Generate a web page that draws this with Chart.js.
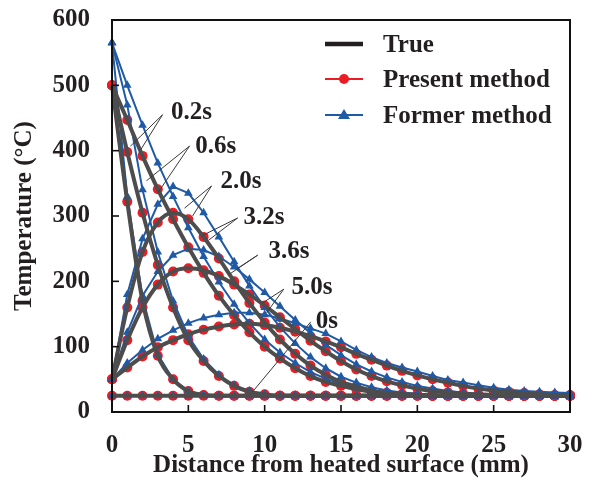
<!DOCTYPE html>
<html><head><meta charset="utf-8">
<script src="https://cdn.jsdelivr.net/npm/chart.js@4.4.1/dist/chart.umd.min.js"></script>
<style>html,body{margin:0;padding:0;background:#fff;}#wrap{width:593px;height:493px;}</style>
</head><body><div id="wrap"><canvas id="c" width="593" height="493"></canvas></div>
<script>
// ---- data (distance in mm, temperature in °C) ----
const distances = [0,1,2,3,4,5,6,7,8,9,10,11,12,13,14,15,16,17,18,19,20,21,22,23,24,25,26,27,28,29,30];
const timeLabels = ['0s','0.2s','0.6s','2.0s','3.2s','3.6s','5.0s'];

const true0s  = [25,25,25,25,25,25,25,25,25,25,25,25,25,25,25,25,25,25,25,25,25,25,25,25,25,25,25,25,25,25,25];
const true02s = [500,322,170,86,50,32,26,25,25,25,25,25,25,25,25,25,25,25,25,25,25,25,25,25,25,25,25,25,25,25,25];
const true06s = [500,398,305,225,160,110,78,55,40,31,27,25,25,25,25,25,25,25,25,25,25,25,25,25,25,25,25,25,25,25,25];
const true20s = [500,447,392,341,295,252,213,178,148,122,100,82,67,55,46,40,35,31,29,27,26,25,25,25,25,25,25,25,25,25,25];
const true32s = [50,160,245,290,305,295,268,235,200,167,137,111,89,71,57,46,39,33,29,27,26,25,25,25,25,25,25,25,25,25,25];
const true36s = [50,110,160,195,215,220,217,208,195,180,163,145,127,109,93,78,65,55,47,41,36,32,30,28,27,26,25,25,25,25,25];
const true50s = [50,68,85,99,110,119,126,131,134,135,133,129,123,116,108,99,89,80,71,63,56,50,45,40,36,33,31,29,27,26,26];

const present0s  = [25,25,25,25,25,25,25,25,25,25,25,25,25,25,25,25,25,25,25,25,25,25,25,25,25,25,25,25,25,25,25];
const present02s = [500,322,170,86,50,32,26,25,25,25,25,25,25,25,25,25,25,25,25,25,25,25,25,25,25,25,25,25,25,25,25];
const present06s = [500,398,305,225,160,110,78,55,40,31,27,25,25,25,25,25,25,25,25,25,25,25,25,25,25,25,25,25,25,25,25];
const present20s = [500,447,392,341,295,252,213,178,148,122,100,82,67,55,46,40,35,31,29,27,26,25,25,25,25,25,25,25,25,25,25];
const present32s = [50,160,245,290,305,295,268,235,200,167,137,111,89,71,57,46,39,33,29,27,26,25,25,25,25,25,25,25,25,25,25];
const present36s = [50,110,160,195,215,220,217,208,195,180,163,145,127,109,93,78,65,55,47,41,36,32,30,28,27,26,25,25,25,25,25];
const present50s = [50,68,85,99,110,119,126,131,134,135,133,129,123,116,108,99,89,80,71,63,56,50,45,40,36,33,31,29,27,26,26];

const former0s  = [25,25,25,25,25,25,25,25,25,25,25,25,25,25,25,25,25,25,25,25,25,25,25,25,25,25,25,25,25,25,25];
const former02s = [565,330,175,88,50,32,26,25,25,25,25,25,25,25,25,25,25,25,25,25,25,25,25,25,25,25,25,25,25,25,25];
const former06s = [565,470,340,245,170,116,81,57,41,32,27,25,25,25,25,25,25,25,25,25,25,25,25,25,25,25,25,25,25,25,25];
const former20s = [565,500,439,381,330,282,238,199,165,136,111,91,75,61,51,43,37,33,30,28,26,25,25,25,25,25,25,25,25,25,25];
const former32s = [50,180,265,318,345,335,305,268,230,193,160,130,105,84,67,54,45,38,33,30,28,26,25,25,25,25,25,25,25,25,25];
const former36s = [50,122,178,215,240,250,248,238,222,203,183,162,141,121,103,87,73,62,53,46,40,36,32,30,28,27,26,25,25,25,25];
const former50s = [50,75,95,112,125,136,144,149,152,152,149,143,136,128,120,108,95,84,75,68,62,55,49,45,41,37,34,32,31,30,29];

const xTicks = [0,5,10,15,20,25,30];
const yTicks = [0,100,200,300,400,500,600];

const trueSeries    = [true0s,true02s,true06s,true20s,true32s,true36s,true50s];
const presentSeries = [present0s,present02s,present06s,present20s,present32s,present36s,present50s];
const formerSeries  = [former0s,former02s,former06s,former20s,former32s,former36s,former50s];

// annotation layout (data units): label centre, arrow start, arrow end(s)
const noteLayout = [
  {t:'0.2s', x:5.21, y:459, from:[3.31,455], to:[[1.21,407],[1.87,401]]},
  {t:'0.6s', x:6.80, y:406, from:[5.08,407], to:[[2.26,354],[3.05,337]]},
  {t:'2.0s', x:8.45, y:352, from:[6.52,346], to:[[4.75,312],[5.28,300]]},
  {t:'3.2s', x:9.95, y:298, from:[8.23,297], to:[[6.00,271],[6.33,263]]},
  {t:'3.6s', x:11.59,y:245, from:[9.54,240], to:[[7.70,211],[8.23,220]]},
  {t:'5.0s', x:13.10,y:190, from:[11.25,188],to:[[9.87,167],[10.13,152]]},
  {t:'0s',   x:14.08,y:138, from:[13.02,138],to:[[9.21,31]]}
];

const FONT = '"Liberation Serif","Times New Roman",serif';
const TXT = '#231f20';
const GRAY = '#4d4d4d', RED = '#ec1c24', BLUE = '#1f5aa6';

const pts = arr => distances.map((x,i)=>({x:x, y:arr[i]}));
const datasets = [];
timeLabels.forEach((t,i)=>{
  datasets.push({label:'True', time:t, data:pts(trueSeries[i]), borderColor:GRAY, backgroundColor:GRAY,
    borderWidth:4, pointRadius:0, cubicInterpolationMode:'monotone', order:1, clip:false, fill:false});
  datasets.push({label:'Present method', time:t, data:pts(presentSeries[i]), showLine:false, borderColor:RED,
    backgroundColor:RED, pointStyle:'circle', pointRadius:5, pointBorderWidth:0, pointBackgroundColor:RED, order:3, clip:false});
  datasets.push({label:'Former method', time:t, data:pts(formerSeries[i]), borderColor:BLUE, backgroundColor:BLUE,
    borderWidth:2, tension:0, pointStyle:'triangle', pointRadius:5, pointBorderWidth:0, pointBackgroundColor:BLUE, order:2, clip:false, fill:false});
});

const noPad = s => { s.paddingTop = 0; s.paddingBottom = 0; s.paddingLeft = 0; s.paddingRight = 0; };

const decor = {
  id:'decor',
  afterDraw(chart){
    const {ctx, chartArea:a, scales:{x,y}} = chart;
    ctx.save();
    ctx.strokeStyle = '#111'; ctx.lineWidth = 2;
    ctx.strokeRect(a.left, a.top, a.right-a.left, a.bottom-a.top);
    ctx.lineWidth = 1.6;
    xTicks.slice(1,-1).forEach(v=>{const px=x.getPixelForValue(v); ctx.beginPath(); ctx.moveTo(px,a.bottom); ctx.lineTo(px,a.bottom-7); ctx.stroke();});
    yTicks.slice(1,-1).forEach(v=>{const py=y.getPixelForValue(v); ctx.beginPath(); ctx.moveTo(a.left,py); ctx.lineTo(a.left+7,py); ctx.stroke();});
    ctx.strokeStyle = '#3a3a3a'; ctx.lineWidth = 1;
    noteLayout.forEach(n=>{
      const fx=x.getPixelForValue(n.from[0]), fy=y.getPixelForValue(n.from[1]);
      n.to.forEach(p=>{ctx.beginPath(); ctx.moveTo(fx,fy); ctx.lineTo(x.getPixelForValue(p[0]), y.getPixelForValue(p[1])); ctx.stroke();});
    });
    ctx.fillStyle = TXT; ctx.font = 'bold 25px '+FONT; ctx.textAlign='center'; ctx.textBaseline='middle';
    noteLayout.forEach(n=>ctx.fillText(n.t, x.getPixelForValue(n.x), y.getPixelForValue(n.y)));
    const items = [
      {t:'True', c:'#231f20', w:4.5, m:null, yy:a.top+24},
      {t:'Present method', c:RED, w:2, m:'circle', yy:a.top+59},
      {t:'Former method', c:BLUE, w:2, m:'triangle', yy:a.top+95}
    ];
    const lx0 = a.right-245, lx1 = a.right-207, tx = a.right-187;
    items.forEach(it=>{
      ctx.strokeStyle = it.c; ctx.lineWidth = it.w;
      ctx.beginPath(); ctx.moveTo(lx0,it.yy); ctx.lineTo(lx1,it.yy); ctx.stroke();
      ctx.fillStyle = it.c;
      const cx=(lx0+lx1)/2;
      if(it.m==='circle'){ctx.beginPath(); ctx.arc(cx,it.yy,5,0,Math.PI*2); ctx.fill();}
      if(it.m==='triangle'){ctx.beginPath(); ctx.moveTo(cx,it.yy-6); ctx.lineTo(cx+6,it.yy+4); ctx.lineTo(cx-6,it.yy+4); ctx.closePath(); ctx.fill();}
      ctx.fillStyle = TXT; ctx.textAlign='left'; ctx.textBaseline='middle'; ctx.font='bold 25px '+FONT;
      ctx.fillText(it.t, tx, it.yy+1.5);
    });
    ctx.restore();
  }
};

new Chart(document.getElementById('c'), {
  type:'line',
  data:{datasets},
  options:{
    responsive:false, animation:false, devicePixelRatio:1,
    layout:{padding:{left:0,right:23,top:20,bottom:0}},
    plugins:{legend:{display:false}, tooltip:{enabled:false}},
    scales:{
      x:{type:'linear', min:0, max:30,
        afterFit(s){s.height=81; noPad(s);},
        afterBuildTicks(s){s.ticks = xTicks.map(v=>({value:v}));},
        grid:{display:false, drawTicks:false}, border:{display:false},
        ticks:{padding:19, color:TXT, font:{family:FONT, size:25, weight:'bold'}},
        title:{display:true, text:'Distance from heated surface (mm)', color:TXT, padding:{top:0,bottom:12}, font:{family:FONT,size:25,weight:'bold'}}
      },
      y:{type:'linear', min:0, max:600,
        afterFit(s){s.width=112; noPad(s);},
        afterBuildTicks(s){s.ticks = yTicks.map(v=>({value:v}));},
        grid:{display:false, drawTicks:false}, border:{display:false},
        ticks:{padding:22, color:TXT, font:{family:FONT, size:25, weight:'bold'}},
        title:{display:true, text:'Temperature (°C)', color:TXT, padding:{top:10,bottom:0}, font:{family:FONT,size:25,weight:'bold'}}
      }
    }
  },
  plugins:[decor]
});
</script></body></html>
